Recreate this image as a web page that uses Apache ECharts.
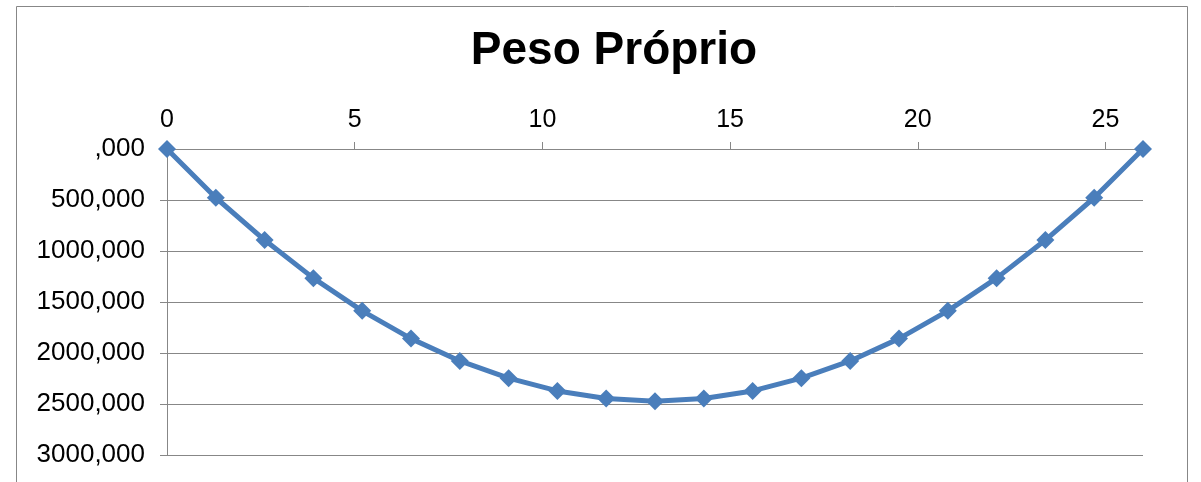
<!DOCTYPE html>
<html>
<head>
<meta charset="utf-8">
<script src="https://cdn.jsdelivr.net/npm/echarts@6/dist/echarts.min.js"></script>
<style>
  html, body { margin: 0; padding: 0; background: #fff; }
  #chart { width: 1201px; height: 482px; }
</style>
</head>
<body>
<div id="chart"></div>
<script>
// posição ao longo do vão (m)
const xValues = [0, 1.3, 2.6, 3.9, 5.2, 6.5, 7.8, 9.1, 10.4, 11.7, 13, 14.3, 15.6, 16.9, 18.2, 19.5, 20.8, 22.1, 23.4, 24.7, 26]
// momento devido ao peso próprio
const yValues = [0, 478, 893, 1266, 1587, 1859, 2078, 2247, 2372, 2447, 2473, 2447, 2372, 2247, 2078, 1859, 1587, 1266, 893, 478, 0]
const xTicks = [0, 5, 10, 15, 20, 25]
const yTickLabels = [',000', '500,000', '1000,000', '1500,000', '2000,000', '2500,000', '3000,000']

const FONT = "'Liberation Sans', Arial, sans-serif"
const GRAY = '#878787'
const BLUE = '#4A7EBB'

const chart = echarts.init(document.getElementById('chart'))
chart.setOption({
  animation: false,
  title: {
    text: 'Peso Próprio',
    left: 609,
    top: 23,
    textAlign: 'center',
    textStyle: { fontFamily: FONT, fontSize: 46, fontWeight: 'bold', color: '#000' },
  },
  graphic: [{
    type: 'rect',
    shape: { x: 16.5, y: 6.5, width: 1171, height: 520 },
    style: { fill: 'none', stroke: GRAY, lineWidth: 1 },
    silent: true,
  }],
  grid: { left: 167, top: 149, right: 58, bottom: 27 },
  xAxis: {
    type: 'value',
    position: 'top',
    min: 0,
    max: 26,
    interval: 5,
    axisLine: { show: true, lineStyle: { color: GRAY, width: 1 } },
    axisTick: { show: true, length: 7, inside: false, customValues: xTicks, lineStyle: { color: GRAY } },
    axisLabel: { customValues: xTicks, margin: 16, color: '#000', fontFamily: FONT, fontSize: 25 },
    splitLine: { show: false },
  },
  yAxis: {
    type: 'value',
    inverse: true,
    min: 0,
    max: 3000,
    interval: 500,
    axisLine: { show: true, lineStyle: { color: GRAY, width: 1 } },
    axisTick: { show: true, length: 7, lineStyle: { color: GRAY } },
    axisLabel: {
      margin: 22,
      color: '#000',
      fontFamily: FONT,
      fontSize: 26,
      formatter: (v, i) => yTickLabels[i],
    },
    splitLine: { show: true, lineStyle: { color: GRAY, width: 1 } },
  },
  series: [{
    type: 'line',
    data: xValues.map((x, i) => [x, yValues[i]]),
    symbol: 'diamond',
    symbolSize: 18,
    lineStyle: { color: BLUE, width: 5 },
    itemStyle: { color: BLUE },
  }],
})
</script>
</body>
</html>
